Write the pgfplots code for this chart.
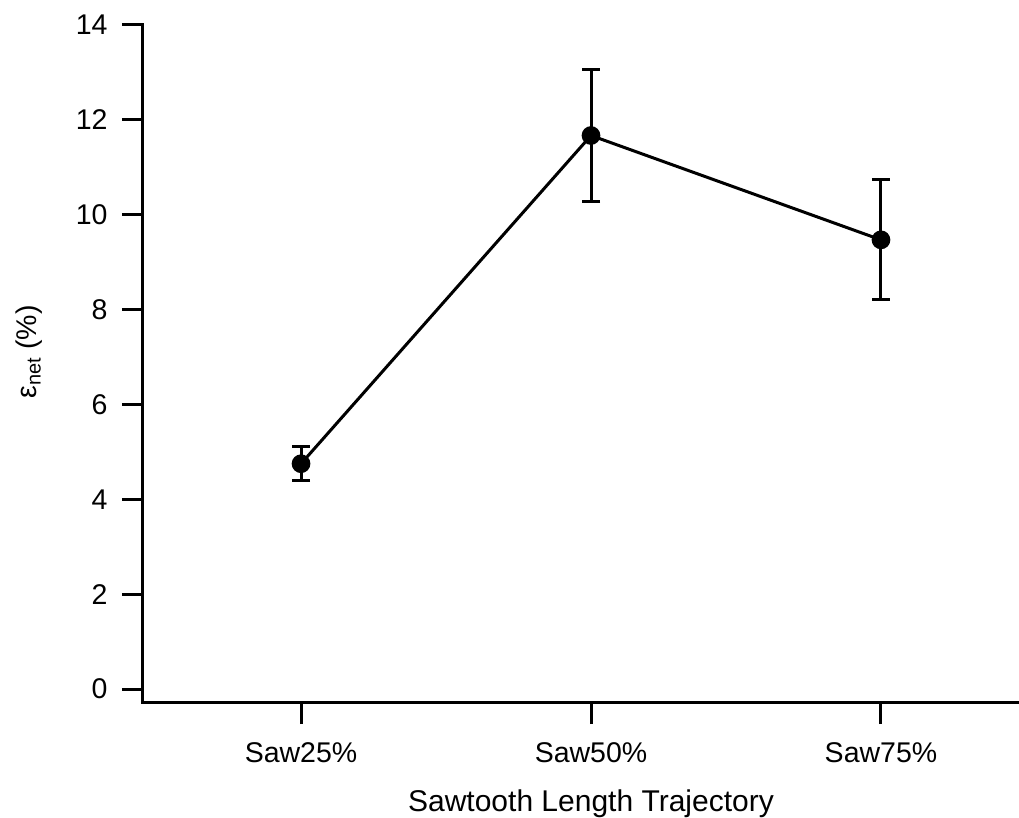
\documentclass[border=0pt]{standalone}
\usepackage{fontspec}
\setmainfont{Liberation Sans}
\usepackage{pgfplots}
\pgfplotsset{compat=1.18}
\begin{document}
\begin{tikzpicture}
\useasboundingbox (-143pt,-115pt) rectangle (876pt,703pt);
\begin{axis}[
  at={(0pt,0pt)}, anchor=south west,
  scale only axis, width=876pt, height=678pt,
  xmin=-0.545, xmax=2.476, ymin=-0.295, ymax=14,
  axis lines=left,
  axis line style={line width=3pt, -, line cap=rect},
  tick style={line width=3pt, black},
  major tick length=21pt, tick align=outside,
  xtick={0,1,2}, xticklabels={Saw25\%,Saw50\%,Saw75\%},
  ytick={0,2,...,14},
  tick label style={font=\fontsize{28.5}{34}\selectfont},
  xticklabel style={yshift=-15pt},
  yticklabel style={xshift=-11pt},
  /pgf/number format/assume math mode=true,
  xlabel={Sawtooth Length Trajectory},
  xlabel style={at={(axis description cs:0.5114,-0.1593)}, anchor=base,
    font=\fontsize{30}{36}\selectfont},
  ylabel={ε\textsubscript{net} (\%)},
  ylabel style={at={(axis description cs:-0.1301,0.5177)}, anchor=center,
    font=\fontsize{28.5}{34}\selectfont},
  clip=false,
]
\addplot[black, line width=3pt, mark=*, mark size=8.6pt,
  mark options={solid, fill=black, line width=1.5pt},
  error bars/.cd, y dir=both, y explicit,
  error bar style={line width=3pt},
  error mark options={rotate=90, mark size=9pt, line width=3pt}]
  coordinates {
    (0,4.75)  +- (0,0.36)
    (1,11.67) +- (0,1.40)
    (2,9.47)  +- (0,1.265)
  };
\end{axis}
\end{tikzpicture}
\end{document}
